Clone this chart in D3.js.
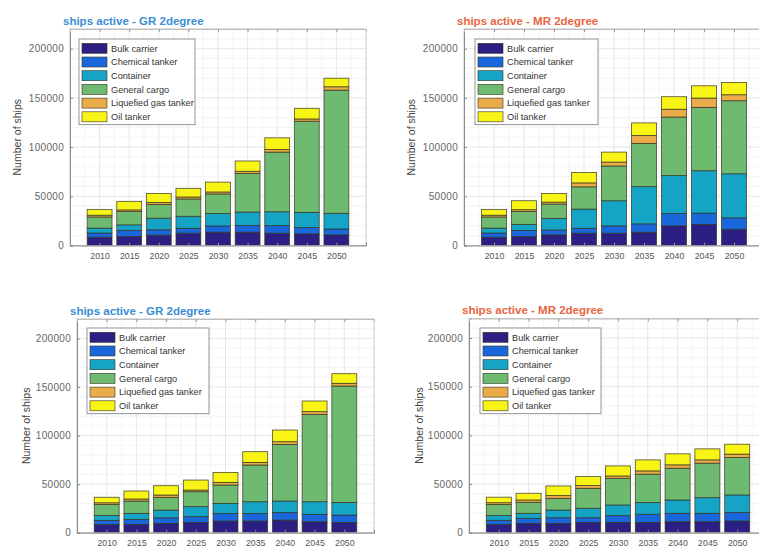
<!DOCTYPE html>
<html>
<head>
<meta charset="utf-8">
<script src="https://cdn.jsdelivr.net/npm/d3@7/dist/d3.min.js"></script>
<style>
  html, body { margin: 0; padding: 0; background: #fff; }
  svg { display: block; font-family: "Liberation Sans", Arial, sans-serif; }
</style>
</head>
<body>
<svg id="chart" width="759" height="550"></svg>
<script>
// Years on the x axis
const years = [2010, 2015, 2020, 2025, 2030, 2035, 2040, 2045, 2050];
// Ship types, stacked bottom to top
const shipTypes = ["Bulk carrier", "Chemical tanker", "Container", "General cargo", "Liquefied gas tanker", "Oil tanker"];
const yTicks = [0, 50000, 100000, 150000, 200000];

// Active ships per type (rows follow shipTypes order)
const grTopValues = [
  [8400, 9100, 10500, 12500, 13500, 13500, 12500, 11800, 10800],
  [4300, 6100, 5500, 5000, 6300, 6700, 7700, 6400, 6000],
  [5000, 5800, 11800, 12200, 12800, 13800, 14100, 15500, 15900],
  [11300, 13500, 14000, 17600, 19800, 39100, 60600, 92600, 125200],
  [1800, 1700, 2000, 2000, 2000, 2300, 2700, 2300, 3400],
  [5700, 8700, 9100, 8800, 10000, 10500, 11800, 10800, 8700]
];
const mrTopValues = [
  [8400, 9100, 10800, 12500, 12500, 13500, 20000, 21500, 16500],
  [4300, 6100, 5000, 5000, 7400, 8500, 12500, 11500, 11700],
  [5000, 6300, 11800, 19500, 25600, 37800, 38500, 43000, 44700],
  [11300, 13200, 14500, 22600, 35300, 44000, 59500, 64400, 74200],
  [1800, 1700, 2000, 4000, 4000, 8000, 8000, 9400, 6100],
  [5700, 9100, 8800, 10500, 10100, 12800, 12700, 12500, 12500]
];
const grBottomValues = [
  [8400, 8600, 9600, 10600, 12000, 12000, 13000, 11300, 10600],
  [4300, 5100, 5800, 5900, 7900, 7900, 7900, 7600, 7600],
  [5000, 6200, 7900, 10300, 10300, 12000, 11700, 13000, 13000],
  [11300, 12700, 13100, 15400, 18900, 37800, 58300, 89900, 119800],
  [1800, 2100, 2400, 1700, 2700, 2700, 2800, 2800, 2800],
  [5700, 8200, 9600, 10300, 10300, 11000, 12000, 11000, 9900]
];
const mrBottomValues = [
  [8400, 9600, 9600, 10600, 10600, 10600, 11300, 11300, 12000],
  [4300, 5200, 5800, 4800, 6900, 8300, 8600, 8600, 8900],
  [5000, 5100, 7900, 9700, 11000, 12000, 13700, 16100, 17900],
  [11300, 11300, 12000, 20500, 27400, 29200, 32600, 35400, 38400],
  [1800, 2400, 2800, 2800, 2400, 3400, 3500, 3400, 3500],
  [5700, 6900, 9900, 9300, 10300, 11300, 11300, 11300, 10200]
];

const typeColors = ["#2b1f84", "#1967db", "#16a4c6", "#6dba70", "#e9ac48", "#f7f416"];
const grColor = "#3a8ed6";
const mrColor = "#e8653e";

const panels = [
  { title: "ships active - GR 2degree", color: grColor, values: grTopValues,
    box: { l: 70, r: 366, t: 29, b: 245.5 }, legend: { x: 79, y: 39, w: 116 }, ylabX: 17 },
  { title: "ships active - MR 2degree", color: mrColor, values: mrTopValues,
    box: { l: 464, r: 764, t: 29, b: 245.5 }, legend: { x: 475, y: 39, w: 123 }, ylabX: 411 },
  { title: "ships active - GR 2degree", color: grColor, values: grBottomValues,
    box: { l: 77, r: 374, t: 319, b: 532.7 }, legend: { x: 87, y: 328, w: 122 }, ylabX: 26 },
  { title: "ships active - MR 2degree", color: mrColor, values: mrBottomValues,
    box: { l: 469, r: 767, t: 318.5, b: 532.7 }, legend: { x: 480, y: 328, w: 121 }, ylabX: 419 }
];

const svg = d3.select("#chart");

panels.forEach(p => {
  const { l, r, t, b } = p.box;
  const x = d3.scaleLinear().domain([0, 10]).range([l, r]);
  const y = d3.scaleLinear().domain([0, 220000]).range([b, t]);
  const g = svg.append("g");

  // rows -> records for d3.stack
  const records = years.map((yr, i) => {
    const rec = { year: yr, idx: i + 1 };
    shipTypes.forEach((s, k) => { rec[s] = p.values[k][i]; });
    return rec;
  });
  const stacked = d3.stack().keys(shipTypes)(records);

  // grid: minor then major
  const grid = g.append("g");
  d3.range(10000, 220001, 10000).filter(v => v % 50000 !== 0).forEach(v => {
    grid.append("line").attr("x1", l).attr("x2", r).attr("y1", y(v)).attr("y2", y(v))
      .attr("stroke", "#ededed").attr("stroke-width", 0.6);
  });
  d3.range(0.5, 10, 1).forEach(v => {
    grid.append("line").attr("x1", x(v)).attr("x2", x(v)).attr("y1", t).attr("y2", b)
      .attr("stroke", "#ededed").attr("stroke-width", 0.6);
  });
  yTicks.slice(1).forEach(v => {
    grid.append("line").attr("x1", l).attr("x2", r).attr("y1", y(v)).attr("y2", y(v))
      .attr("stroke", "#dcdcdc").attr("stroke-width", 0.7);
  });
  d3.range(1, 10).forEach(v => {
    grid.append("line").attr("x1", x(v)).attr("x2", x(v)).attr("y1", t).attr("y2", b)
      .attr("stroke", "#dcdcdc").attr("stroke-width", 0.7);
  });

  // stacked bars
  const bw = (x(1) - x(0)) * 0.84;
  g.append("g").selectAll("g").data(stacked).join("g")
    .attr("fill", (d, k) => typeColors[k])
    .selectAll("rect").data(d => d).join("rect")
    .attr("x", d => x(d.data.idx) - bw / 2)
    .attr("width", bw)
    .attr("y", d => y(d[1]))
    .attr("height", d => y(d[0]) - y(d[1]))
    .attr("stroke", "#33331f").attr("stroke-width", 0.8).attr("stroke-opacity", 0.85);

  // box edges
  g.append("rect").attr("x", l).attr("y", t).attr("width", r - l).attr("height", b - t)
    .attr("fill", "none").attr("stroke", "#bdbdbd").attr("stroke-width", 0.8);

  // axes
  const yAxis = d3.axisLeft(y).tickValues(yTicks).tickFormat(d3.format("d")).tickSize(-3).tickPadding(6);
  const ya = g.append("g").attr("transform", `translate(${l},0)`).call(yAxis);
  ya.select(".domain").attr("stroke", "#8a8a8a");
  ya.selectAll(".tick line").attr("stroke", "#8a8a8a");
  ya.selectAll("text").attr("fill", "#666").attr("font-size", 10).attr("letter-spacing", 0.3);

  const xAxis = d3.axisBottom(x).tickValues(d3.range(1, 10)).tickFormat(d => years[d - 1]).tickSize(-3).tickPadding(7);
  const xa = g.append("g").attr("transform", `translate(0,${b})`).call(xAxis);
  xa.select(".domain").attr("stroke", "#8a8a8a");
  xa.selectAll(".tick line").attr("stroke", "#8a8a8a");
  xa.selectAll("text").attr("fill", "#555").attr("font-size", 8.8);

  // ticks on the top edge
  const xTop = d3.axisTop(x).tickValues(d3.range(1, 10)).tickFormat("").tickSize(-3);
  const xt = g.append("g").attr("transform", `translate(0,${t})`).call(xTop);
  xt.select(".domain").attr("stroke", "#bdbdbd");
  xt.selectAll(".tick line").attr("stroke", "#9a9a9a");

  // title
  g.append("text").attr("x", l - 7).attr("y", t - 4.5)
    .attr("fill", p.color).attr("font-size", 11.5).attr("font-weight", "bold")
    .text(p.title);

  // y label
  g.append("text")
    .attr("transform", `translate(${p.ylabX},${(t + b) / 2}) rotate(-90)`)
    .attr("text-anchor", "middle").attr("dy", "0.35em")
    .attr("fill", "#444").attr("font-size", 10.5)
    .text("Number of ships");

  // legend
  const L = p.legend;
  const rowH = 13.7;
  const lg = g.append("g").attr("transform", `translate(${L.x},${L.y})`);
  lg.append("rect").attr("width", L.w).attr("height", rowH * 6 + 3.5)
    .attr("fill", "#fff").attr("stroke", "#7a7a7a").attr("stroke-width", 0.8);
  shipTypes.forEach((s, k) => {
    const cy = 9.3 + k * rowH;
    lg.append("rect").attr("x", 3).attr("y", cy - 5).attr("width", 25).attr("height", 10)
      .attr("fill", typeColors[k]).attr("stroke", "#33331f").attr("stroke-width", 0.6);
    lg.append("text").attr("x", 32).attr("y", cy).attr("dy", "0.35em")
      .attr("fill", "#333").attr("font-size", 9.2).text(s);
  });
});
</script>
</body>
</html>
